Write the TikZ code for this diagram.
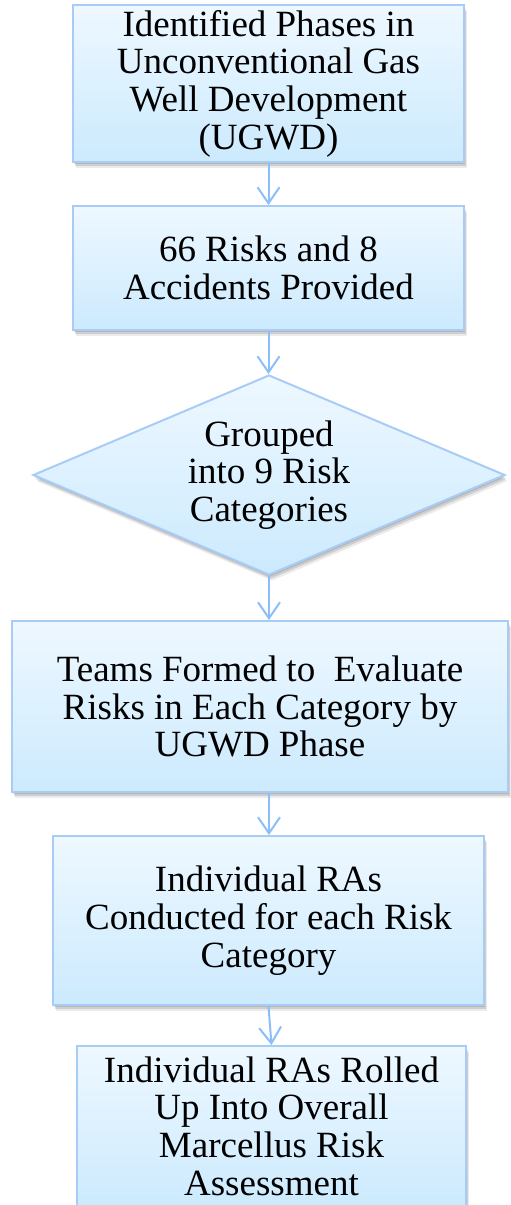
\documentclass[tikz,border=0pt]{standalone}
\usepackage{fontspec}
\setmainfont{Liberation Serif}
\usetikzlibrary{shapes.geometric,shadows,arrows.meta}
\definecolor{boxline}{RGB}{168,204,246}
\definecolor{boxtop}{RGB}{238,248,255}
\definecolor{boxbot}{RGB}{204,234,254}
\definecolor{linkcol}{RGB}{140,190,250}
\begin{document}
\begin{tikzpicture}[x=1pt,y=1pt]
            % soft shadow: a few faint copies stacked below the shape
            \tikzset{Soft/.style={
                drop shadow={shadow xshift=1pt,shadow yshift=-2pt,fill=black,opacity=0.12},
                drop shadow={shadow xshift=2pt,shadow yshift=-4pt,fill=black,opacity=0.12},
                drop shadow={shadow xshift=3pt,shadow yshift=-6pt,fill=black,opacity=0.08}}}
            \tikzset{Box/.style={rectangle,draw=boxline,line width=2pt,top color=boxtop,bottom color=boxbot,Soft,
                align=center,inner sep=0pt,font=\fontsize{37}{37.7}\selectfont}}
            \tikzset{Decision/.style={Box,diamond,aspect=2.36}}
            \tikzset{Link/.style={draw=linkcol,line width=2pt,-{Straight Barb[length=16pt,width=22pt]}}}
            \useasboundingbox (0,0) rectangle (511,-1205);
            \node[Box,minimum width=391,minimum height=157] (a) at (268.5,-83.5) {Identified Phases in\\Unconventional Gas\\Well Development\\(UGWD)} ;
            \node[Box,minimum width=391,minimum height=124] (b) at (268.5,-268) {66 Risks and 8\\Accidents Provided} ;
            \node[Decision,minimum width=472,minimum height=200] (c) at (269,-475) {Grouped\\into 9 Risk\\Categories} ;
            \node[Box,minimum width=496,minimum height=171] (d) at (260,-706.5) {Teams Formed to~ Evaluate\\Risks in Each Category by\\UGWD Phase} ;
            \node[Box,minimum width=431,minimum height=169] (e) at (268.5,-920.5) {Individual RAs\\Conducted for each Risk\\Category} ;
            \node[Box,minimum width=389,minimum height=160] (f) at (271.5,-1126) {Individual RAs Rolled\\Up Into Overall\\Marcellus Risk\\Assessment} ;
            \draw[Link] (a.south) -- (a.south |- b.north);
            \draw[Link] (b.south) -- (b.south |- c.north);
            \draw[Link] (c.south) -- (c.south |- d.north);
            \draw[Link] (c.south |- d.south) -- (c.south |- e.north);
            \draw[Link] (e.south) -- (f.north);
        \end{tikzpicture}
\end{document}
